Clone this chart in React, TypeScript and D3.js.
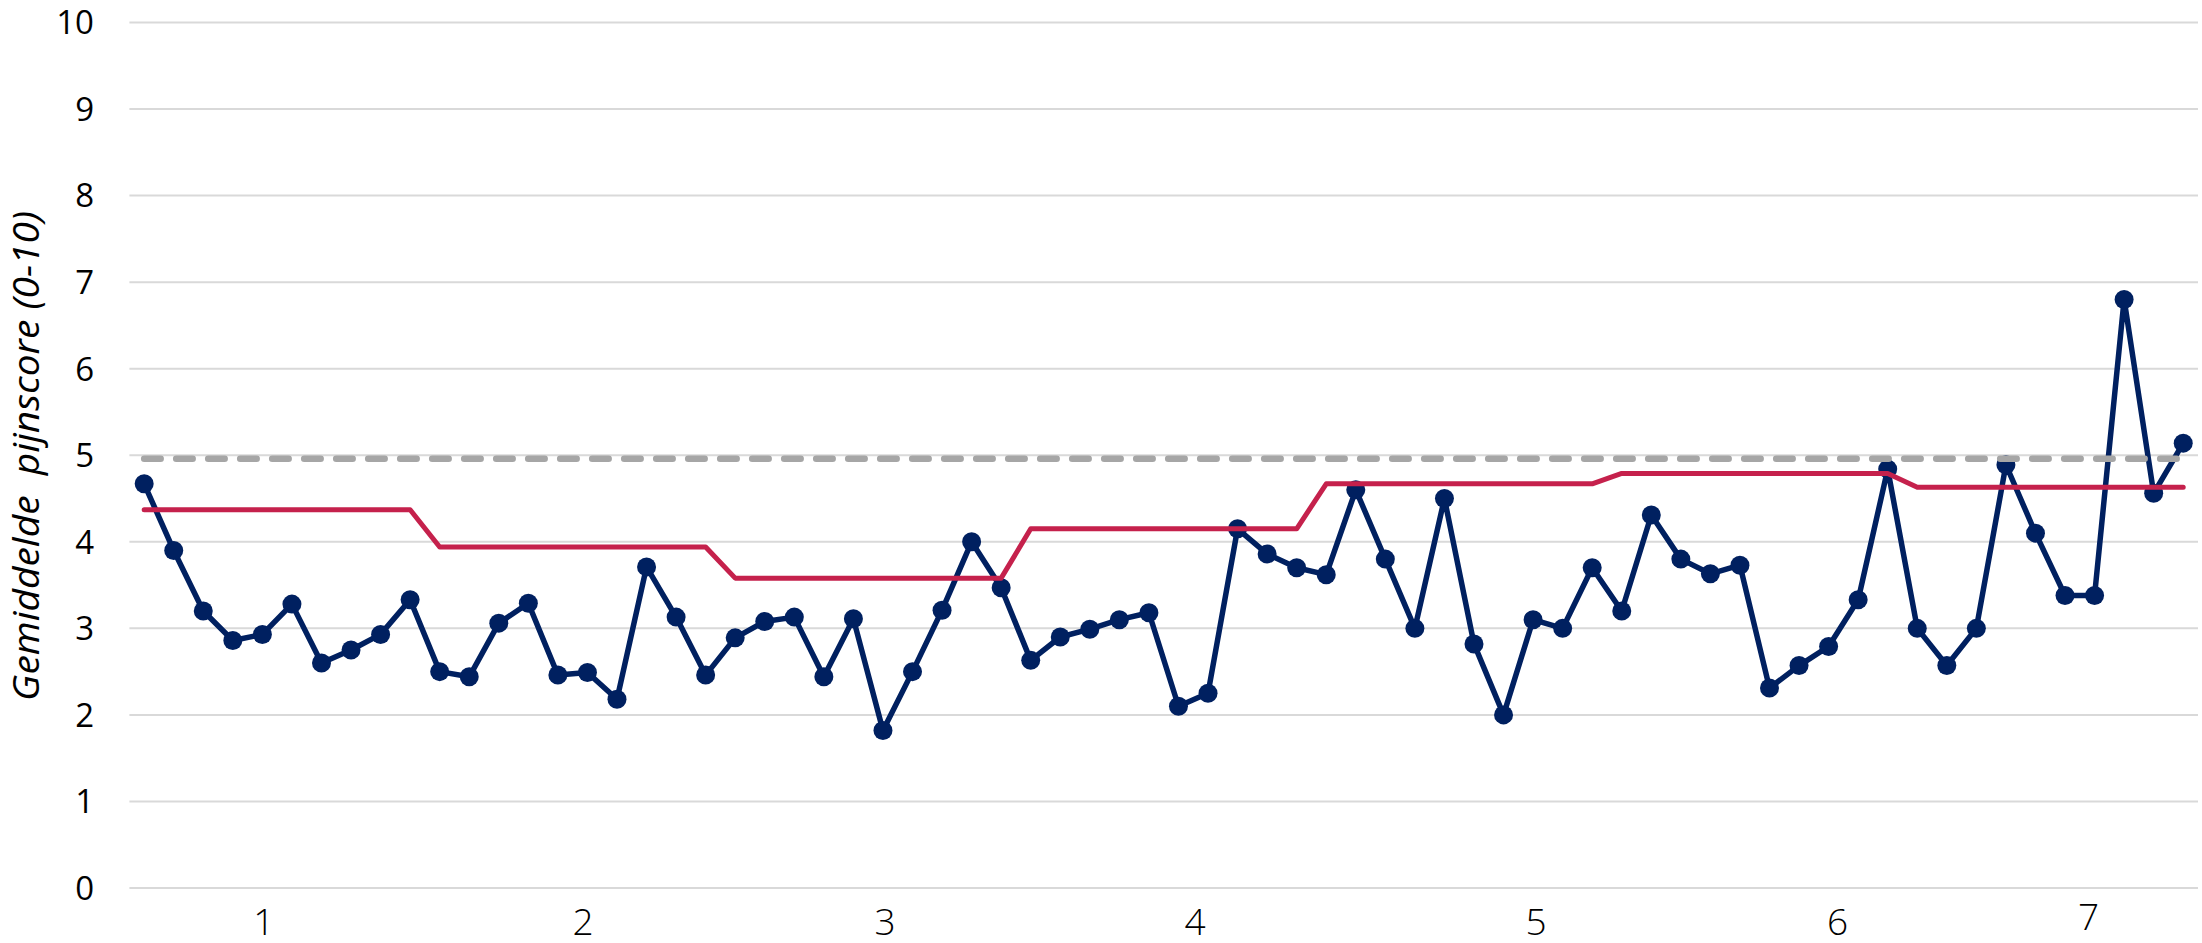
import React from "react";
import * as d3 from "d3";

// ---------- data ----------
const measurements: number[] = [
  4.67, 3.90, 3.20, 2.86, 2.93, 3.28, 2.60, 2.75, 2.93, 3.33,
  2.50, 2.44, 3.06, 3.29, 2.46, 2.49, 2.18, 3.71, 3.13, 2.46,
  2.89, 3.08, 3.13, 2.44, 3.11, 1.82, 2.50, 3.21, 4.00, 3.47,
  2.63, 2.90, 2.99, 3.10, 3.18, 2.10, 2.25, 4.15, 3.86, 3.70,
  3.62, 4.60, 3.80, 3.00, 4.50, 2.82, 2.00, 3.10, 3.00, 3.70,
  3.20, 4.31, 3.80, 3.63, 3.73, 2.31, 2.57, 2.79, 3.33, 4.84,
  3.00, 2.57, 3.00, 4.89, 4.10, 3.38, 3.38, 6.80, 4.56, 5.14,
];

const stepLevel: number[] = [
  4.37, 4.37, 4.37, 4.37, 4.37, 4.37, 4.37, 4.37, 4.37, 4.37,
  3.94, 3.94, 3.94, 3.94, 3.94, 3.94, 3.94, 3.94, 3.94, 3.94,
  3.58, 3.58, 3.58, 3.58, 3.58, 3.58, 3.58, 3.58, 3.58, 3.58,
  4.15, 4.15, 4.15, 4.15, 4.15, 4.15, 4.15, 4.15, 4.15, 4.15,
  4.67, 4.67, 4.67, 4.67, 4.67, 4.67, 4.67, 4.67, 4.67, 4.67,
  4.79, 4.79, 4.79, 4.79, 4.79, 4.79, 4.79, 4.79, 4.79, 4.79,
  4.63, 4.63, 4.63, 4.63, 4.63, 4.63, 4.63, 4.63, 4.63, 4.63,
];

const referenceValue = 4.96;

const periodLabels: string[] = ["1", "2", "3", "4", "5", "6", "7"];
// label anchor in measurement-index units
const periodLabelAt: number[] = [4.05, 14.85, 25.07, 35.56, 47.1, 57.3, 65.8];

const yTicks: number[] = [0, 1, 2, 3, 4, 5, 6, 7, 8, 9, 10];
const yTitle = "Gemiddelde  pijnscore (0-10)";

// ---------- layout ----------
const W = 2202;
const H = 943;
const plotLeft = 129.4;
const plotRight = 2198;
const plotTop = 22.5;
const plotBottom = 888;

const NAVY = "#002060";
const RED = "#C5214C";
const GREY = "#A6A6A6";
const GRID = "#D9D9D9";

export default function App() {
  const n = measurements.length;
  const x = d3.scaleLinear().domain([-0.5, n - 0.5]).range([plotLeft, plotRight]);
  const y = d3.scaleLinear().domain([0, 10]).range([plotBottom, plotTop]);

  const line = d3
    .line<number>()
    .x((_, i) => x(i))
    .y((d) => y(d));

  const refPath = d3
    .line<number>()
    .x((d) => x(d))
    .y(() => y(referenceValue))([0, n - 1]);

  const labelDy = [0, 0, 0, 0, 0, 0, -5];

  return (
    <svg
      width={W}
      height={H}
      viewBox={`0 0 ${W} ${H}`}
      style={{ position: "absolute", left: 0, top: 0, background: "#fff" }}
    >
      {/* grid */}
      {yTicks.map((t) => (
        <line
          key={"g" + t}
          x1={plotLeft}
          x2={plotRight}
          y1={y(t)}
          y2={y(t)}
          stroke={GRID}
          strokeWidth={2}
        />
      ))}
      {/* y tick labels */}
      {yTicks.map((t) => (
        <text
          key={"yl" + t}
          x={94}
          y={y(t)}
          dy="0.36em"
          textAnchor="end"
          fontFamily="'Open Sans', 'Noto Sans', sans-serif"
          fontSize={33}
          fill="#000"
        >
          {t}
        </text>
      ))}
      {/* y title */}
      <text
        transform={`translate(39, ${(211 + 701) / 2}) rotate(-90)`}
        textAnchor="middle"
        fontFamily="'Open Sans', 'Noto Sans', sans-serif"
        fontStyle="italic"
        fontSize={36}
        textLength={490}
        lengthAdjust="spacingAndGlyphs"
        fill="#000"
        style={{ whiteSpace: "pre" }}
      >
        {yTitle}
      </text>
      {/* x period labels */}
      {periodLabels.map((lab, i) => (
        <text
          key={"xl" + lab}
          x={x(periodLabelAt[i])}
          y={935 + labelDy[i]}
          textAnchor="middle"
          fontFamily="'Open Sans', 'Noto Sans', sans-serif"
          fontWeight={300}
          fontSize={37}
          fill="#000"
        >
          {lab}
        </text>
      ))}
      {/* measurement line */}
      <path
        d={line(measurements) || ""}
        fill="none"
        stroke={NAVY}
        strokeWidth={5.5}
        strokeLinejoin="round"
      />
      {measurements.map((v, i) => (
        <circle key={"m" + i} cx={x(i)} cy={y(v)} r={9.5} fill={NAVY} />
      ))}
      {/* step line */}
      <path
        d={line(stepLevel) || ""}
        fill="none"
        stroke={RED}
        strokeWidth={5}
        strokeLinecap="round"
        strokeLinejoin="round"
      />
      {/* reference dashed line */}
      <path
        d={refPath || ""}
        fill="none"
        stroke={GREY}
        strokeWidth={6.5}
        strokeDasharray="16.5 15.5"
        strokeLinecap="round"
      />
    </svg>
  );
}
